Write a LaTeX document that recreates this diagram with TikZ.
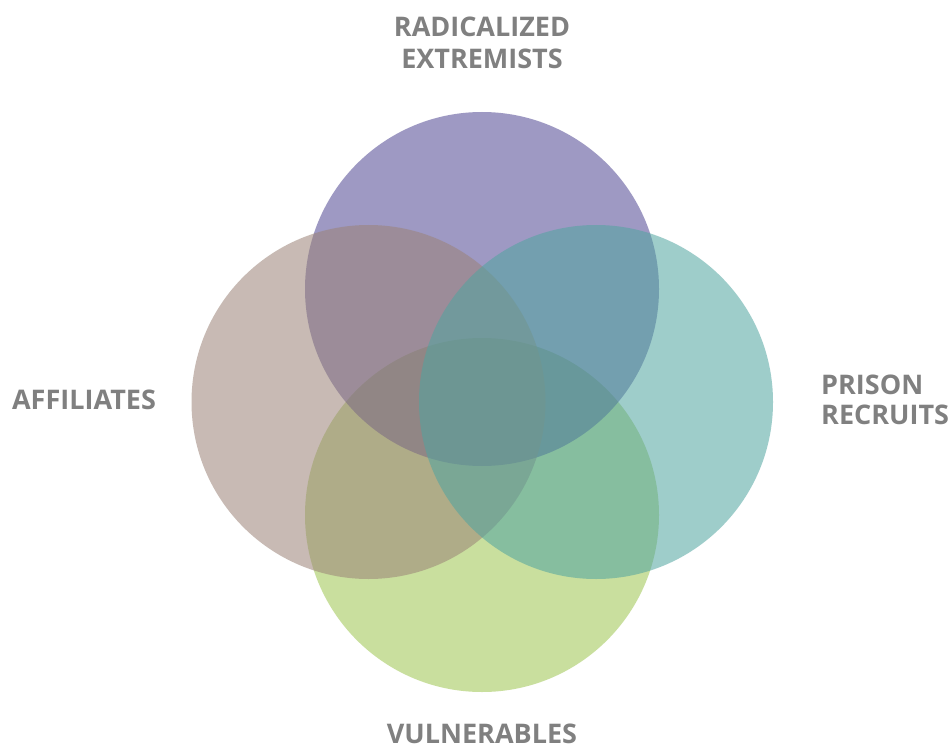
\documentclass[tikz,border=0pt]{standalone}
\usepackage{fontspec}
\setmainfont{Open Sans}
\begin{document}
\begin{tikzpicture}[x=1pt,y=-1pt]
\definecolor{cpurple}{RGB}{80,71,146}
\definecolor{cbrown}{RGB}{155,131,119}
\definecolor{cteal}{RGB}{80,164,160}
\definecolor{cgreen}{RGB}{157,197,80}
\definecolor{labelgrey}{RGB}{128,128,128}
\tikzset{
  venn/.style={circle, minimum size=354pt, inner sep=0pt, fill opacity=0.55},
  lbl/.style={text=labelgrey, font=\fontsize{27}{32}\selectfont\bfseries, inner sep=0pt, anchor=base}
}
\useasboundingbox[fill=white] (0,0) rectangle (949,751);
\node[venn, fill=cgreen]  (vuln) at (482,515) {};
\node[venn, fill=cpurple] (rad)  at (482,289) {};
\node[venn, fill=cbrown]  (aff)  at (368.5,402) {};
\node[venn, fill=cteal]   (pris) at (596,402) {};
\node[lbl] (radA) at (482,37) {RADICALIZED};
\node[lbl] (radB) at (482,69) {EXTREMISTS};
\node[lbl] (affl) at (84,409) {AFFILIATES};
\node[lbl, anchor=base west] (prA) at (821,394) {PRISON};
\node[lbl, anchor=base west] (prB) at (821,424) {RECRUITS};
\node[lbl] (vul) at (482,743) {VULNERABLES};
\end{tikzpicture}
\end{document}
